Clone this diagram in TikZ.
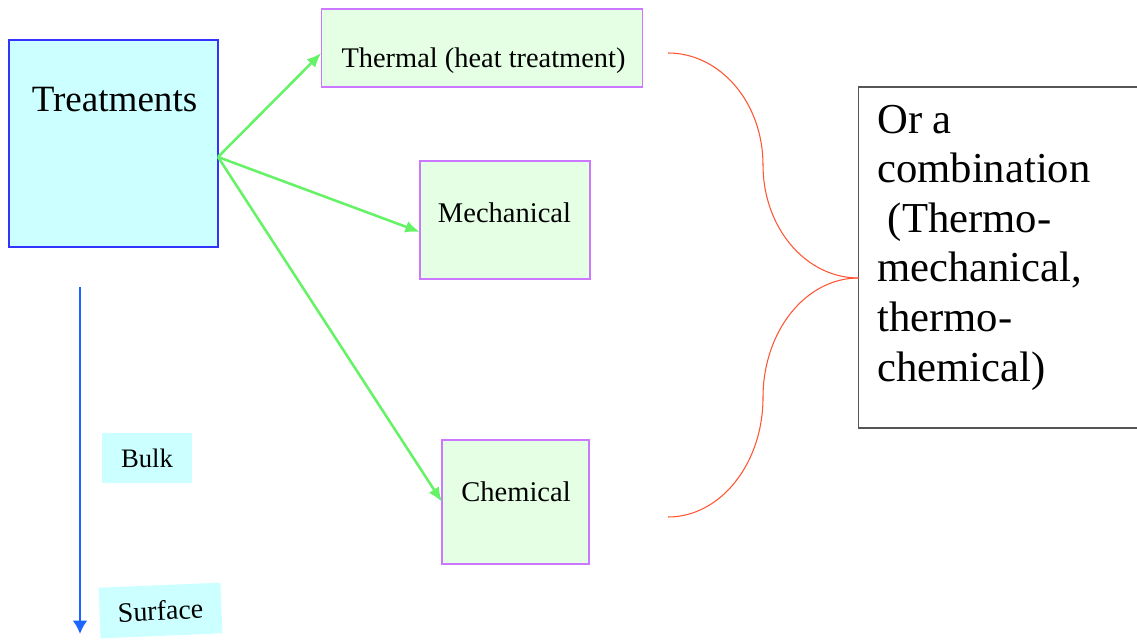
\documentclass[tikz,border=0pt]{standalone}
\usepackage{fontspec}
\setmainfont{Liberation Serif}
\usetikzlibrary{arrows.meta,calc}
\definecolor{cyanfill}{HTML}{CCFFFF}
\definecolor{bluedraw}{HTML}{3333FF}
\definecolor{greenfill}{HTML}{E5FFE5}
\definecolor{violetdraw}{HTML}{CC77FF}
\definecolor{greenarrow}{HTML}{66F266}
\definecolor{bluearrow}{HTML}{1A66FF}
\definecolor{redcurve}{HTML}{FF5533}
\definecolor{graydraw}{HTML}{555555}
\begin{document}
\begin{tikzpicture}[x=0.75pt,y=-0.75pt,
  treatbox/.style={draw=bluedraw, fill=cyanfill, line width=1pt, inner sep=0pt, outer sep=0pt, minimum width=156.75pt, minimum height=155.25pt},
  kindbox/.style={draw=violetdraw, fill=greenfill, line width=1pt, inner sep=0pt, outer sep=0pt},
  tagbox/.style={fill=cyanfill, inner sep=0pt, outer sep=0pt, font=\fontsize{20}{24}\selectfont},
  lbl/.style={inner sep=0pt, anchor=base},
  garrow/.style={draw=greenarrow, line width=1.9pt, -{Latex[length=11pt,width=9pt]}},
  barrow/.style={draw=bluearrow, line width=1.7pt, -{Latex[length=10pt,width=11pt]}},
  redline/.style={draw=redcurve, line width=0.8pt}]
\useasboundingbox (0,0) rectangle (1137,641);

% boxes
\node[treatbox] (treat) at (113.5,143.5) {};
\node[kindbox, minimum width=241pt, minimum height=58.5pt] (thermal) at (482,48) {};
\node[kindbox, minimum width=127.5pt, minimum height=88.5pt] (mech) at (505,220) {};
\node[kindbox, minimum width=110.25pt, minimum height=93pt] (chem) at (515.5,502) {};
\node[draw=graydraw, line width=1pt, inner sep=0pt, outer sep=0pt, minimum width=211.5pt, minimum height=255.75pt] (combo) at (999.5,257.5) {};

% labels
\node[lbl, font=\fontsize{27.8}{32}\selectfont] (treattext) at (114.5,112) {Treatments};
\node[lbl, font=\fontsize{21.3}{25}\selectfont] (thermaltext) at (483.5,68) {Thermal (heat treatment)};
\node[lbl, font=\fontsize{21.4}{25}\selectfont] (mechtext) at (504.5,223) {Mechanical};
\node[lbl, font=\fontsize{21.4}{25}\selectfont] (chemtext) at (516,501.5) {Chemical};
\node[inner sep=0pt, anchor=base west, align=left, font=\fontsize{32}{37.2}\selectfont] (combotext) at (877,381)
  {Or a\\combination\\\hspace*{0.25em}(Thermo-\\mechanical,\\thermo-\\chemical)};

% bulk / surface
\node[tagbox, minimum width=67.5pt, minimum height=37.5pt] (bulk) at (147,458) {Bulk};
\node[tagbox, minimum width=91.5pt, minimum height=38pt, rotate=2.4, font=\fontsize{21}{25}\selectfont] (surface) at (160.5,610.5) {Surface};

% green arrows
\coordinate (gstart) at ($(treat.east)+(0,13.5)$);
\draw[garrow] (gstart) -- ($(thermal.west)+(0,5)$);
\draw[garrow] (gstart) -- ($(mech.west)+(0,12)$);
\draw[garrow] (gstart) -- (chem.west);

% blue arrow
\coordinate (btop) at (80,287);
\coordinate (bbot) at (80,634);
\draw[barrow] (btop) -- (bbot);

% red brace-like curves
\coordinate (r1) at (668,53);
\coordinate (r2) at (668,517);
\coordinate (j) at ($(combo.west)+(0,20.5)$);
\draw[redline] (r1) .. controls (720.5,53) and (763,103) .. (763,165)
  .. controls (763,227.4) and (805.5,278) .. (j);
\draw[redline] (j) .. controls (805.5,278) and (763,331.5) .. (763,397.5)
  .. controls (763,463.5) and (720.5,517) .. (r2);
\end{tikzpicture}
\end{document}
